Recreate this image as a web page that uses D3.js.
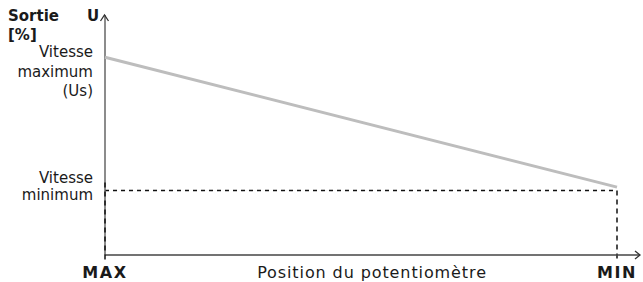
<!DOCTYPE html>
<html>
<head>
<meta charset="utf-8">
<script src="https://cdn.jsdelivr.net/npm/d3@7"></script>
<style>
  body { margin: 0; background: #fff; }
  text { font-family: "DejaVu Sans", sans-serif; font-size: 15px; fill: #1a1a1a; }
  .bold { font-weight: bold; }
</style>
</head>
<body>
<script>
// potentiometer position (0 = MAX, 100 = MIN) and output in %
var positions = [0, 100];
var outputs = [86, 29.5];
var minLevel = [28];
var xTickLabels = ["MAX", "MIN"];

var width = 643, height = 282;

var x = d3.scaleLinear().domain([0, 100]).range([105, 617]);
var y = d3.scaleLinear().domain([0, 100]).range([255, 25]);

var svg = d3.select("body").append("svg")
    .attr("width", width)
    .attr("height", height);

// dashed guides for minimum speed
svg.append("line")
    .attr("x1", x(0)).attr("x2", x(100))
    .attr("y1", y(minLevel[0])).attr("y2", y(minLevel[0]))
    .attr("stroke", "#111").attr("stroke-width", 1.5)
    .attr("stroke-dasharray", "4,4");
svg.append("line")
    .attr("x1", x(100)).attr("x2", x(100))
    .attr("y1", y(minLevel[0])).attr("y2", 262)
    .attr("stroke", "#111").attr("stroke-width", 1.5)
    .attr("stroke-dasharray", "5,4");

// axes
svg.append("line")
    .attr("x1", x(0)).attr("x2", 640)
    .attr("y1", y(0)).attr("y2", y(0))
    .attr("stroke", "#444").attr("stroke-width", 1.5);
svg.append("path")
    .attr("d", "M635,251 L640,255 L635,259")
    .attr("fill", "none").attr("stroke", "#333").attr("stroke-width", 1.3);
svg.append("line")
    .attr("x1", x(0)).attr("x2", x(0))
    .attr("y1", y(0)).attr("y2", 15)
    .attr("stroke", "#666").attr("stroke-width", 1.5);
svg.append("path")
    .attr("d", "M100.5,21 L104.5,15 L108.5,21")
    .attr("fill", "none").attr("stroke", "#333").attr("stroke-width", 1.3);
svg.append("line")
    .attr("x1", x(0)).attr("x2", x(0))
    .attr("y1", y(minLevel[0]) - 8).attr("y2", 262)
    .attr("stroke", "#111").attr("stroke-width", 1.5)
    .attr("stroke-dasharray", "5,4");

// output line
var line = d3.line()
    .x(function(d, i) { return x(positions[i]); })
    .y(function(d) { return y(d); });
svg.append("path")
    .datum(outputs)
    .attr("d", line)
    .attr("fill", "none")
    .attr("stroke", "#bdbdbd")
    .attr("stroke-width", 3);

// labels
svg.append("text").attr("class", "bold").attr("x", 8).attr("y", 21).text("Sortie");
svg.append("text").attr("class", "bold").attr("x", 87).attr("y", 21).text("U");
svg.append("text").attr("class", "bold").attr("x", 8).attr("y", 40).text("[%]");

var rightLabels = [["Vitesse", 57], ["maximum", 77], ["(Us)", 96], ["Vitesse", 183], ["minimum", 200]];
svg.selectAll("text.ylab")
    .data(rightLabels)
    .enter().append("text")
    .classed("ylab", true)
    .attr("x", 93)
    .attr("y", function(d) { return d[1]; })
    .attr("text-anchor", "end")
    .text(function(d) { return d[0]; });

svg.selectAll("text.xlab")
    .data(xTickLabels)
    .enter().append("text")
    .classed("xlab bold", true)
    .attr("x", function(d, i) { return x(positions[i]); })
    .attr("y", 278)
    .attr("text-anchor", "middle")
    .style("font-size", "16px")
    .style("letter-spacing", "1.6px")
    .text(function(d) { return d; });

svg.append("text")
    .attr("x", 372).attr("y", 278)
    .attr("text-anchor", "middle")
    .style("font-size", "16px")
    .style("letter-spacing", "0.9px")
    .text("Position du potentiomètre");
</script>
</body>
</html>
